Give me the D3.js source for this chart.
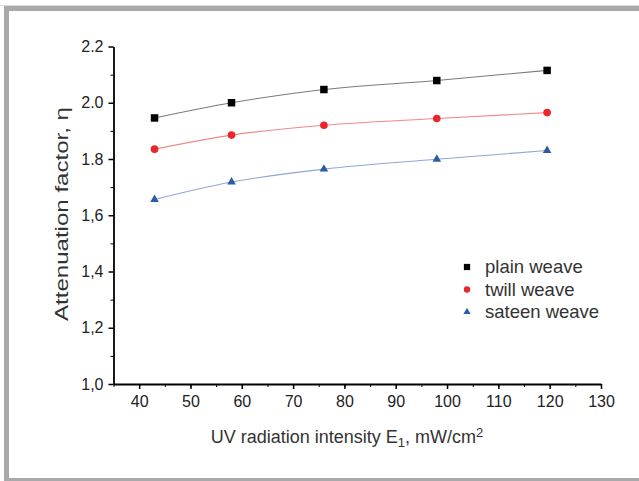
<html>
<head>
<style>
  body { margin: 0; background: #fff; }
  svg text { font-family: "Liberation Sans", Arial, sans-serif; }
  .axis path, .axis line { stroke: #000; }
  .axis text { fill: #222; font-size: 16px; }
  .minor text { display: none; }
</style>
<script src="https://d3js.org/d3.v7.min.js"></script>
</head>
<body>
<svg width="639" height="481"></svg>
<script>
// data
const intensity = [43, 58, 76, 98, 119.5];
const plainWeave = [1.946, 2.000, 2.047, 2.079, 2.115];
const twillWeave = [1.835, 1.885, 1.920, 1.944, 1.965];
const sateenWeave = [1.656, 1.718, 1.764, 1.799, 1.830];
const seriesNames = ["plain weave", "twill weave", "sateen weave"];
const xTicks = [40, 50, 60, 70, 80, 90, 100, 110, 120, 130];
const yTicks = [1.0, 1.2, 1.4, 1.6, 1.8, 2.0, 2.2];
const yTickLabels = ["1,0", "1,2", "1,4", "1,6", "1.8", "2.0", "2.2"];

const svg = d3.select("svg");

// grey frame
svg.append("rect").attr("x", 0).attr("y", 5).attr("width", 639).attr("height", 1).attr("fill", "#dcdcdc");
svg.append("rect").attr("x", 4).attr("y", 6).attr("width", 635).attr("height", 5).attr("fill", "#a9a9ab");
svg.append("rect").attr("x", 4).attr("y", 6).attr("width", 5).attr("height", 475).attr("fill", "#a9a9ab");
svg.append("rect").attr("x", 4).attr("y", 478).attr("width", 635).attr("height", 3).attr("fill", "#a9a9ab");

const xs = d3.scaleLinear().domain([35, 130]).range([113.5, 601]);
const ys = d3.scaleLinear().domain([1.0, 2.2]).range([384, 46.5]);

// minor ticks
svg.append("g").attr("class", "axis minor")
  .attr("transform", "translate(0," + ys(1.0) + ")")
  .call(d3.axisBottom(xs).tickValues(d3.range(35, 131, 5)).tickSize(3).tickFormat(""))
  .call(g => g.select(".domain").remove());
svg.append("g").attr("class", "axis minor")
  .attr("transform", "translate(" + xs(35) + ",0)")
  .call(d3.axisLeft(ys).tickValues(d3.range(1.1, 2.2, 0.2)).tickSize(3).tickFormat(""))
  .call(g => g.select(".domain").remove());

// major axes
svg.append("g").attr("class", "axis")
  .attr("transform", "translate(0," + ys(1.0) + ")")
  .call(d3.axisBottom(xs).tickValues(xTicks).tickSize(5).tickSizeOuter(0).tickPadding(7))
  .call(g => g.select(".domain").attr("stroke-width", 1.8))
  .call(g => g.selectAll(".tick line").attr("stroke-width", 1.5));
svg.append("g").attr("class", "axis")
  .attr("transform", "translate(" + xs(35) + ",0)")
  .call(d3.axisLeft(ys).tickValues(yTicks).tickSize(5).tickSizeOuter(0).tickPadding(5)
    .tickFormat((d, i) => yTickLabels[i]))
  .call(g => g.select(".domain").attr("stroke-width", 1.8))
  .call(g => g.selectAll(".tick line").attr("stroke-width", 1.5));

// axis titles
const xTitle = svg.append("text")
  .attr("x", 347).attr("y", 443)
  .attr("text-anchor", "middle")
  .attr("fill", "#333").attr("font-size", "18px");
xTitle.append("tspan").text("UV radiation intensity E");
xTitle.append("tspan").attr("dy", 4).attr("font-size", "13px").text("1");
xTitle.append("tspan").attr("dy", -4).text(", mW/cm");
xTitle.append("tspan").attr("dy", -6).attr("font-size", "13px").text("2");

svg.append("text")
  .attr("transform", "translate(68,214) rotate(-90)")
  .attr("text-anchor", "middle")
  .attr("fill", "#333").attr("font-size", "19px")
  .attr("textLength", 214).attr("lengthAdjust", "spacingAndGlyphs")
  .text("Attenuation factor, \u03b7");

// curves
const series = [
  { name: seriesNames[0], values: plainWeave, line: "#7a7a7a", fill: "#000", shape: d3.symbolSquare, size: 56 },
  { name: seriesNames[1], values: twillWeave, line: "#f08a8a", fill: "#e8262c", shape: d3.symbolCircle, size: 46 },
  { name: seriesNames[2], values: sateenWeave, line: "#8ea6d8", fill: "#2b5ba8", shape: d3.symbolTriangle, size: 32 }
];

const line = d3.line()
  .x((d, i) => xs(intensity[i]))
  .y(d => ys(d))
  .curve(d3.curveMonotoneX);

series.forEach(s => {
  svg.append("path")
    .attr("d", line(s.values))
    .attr("fill", "none")
    .attr("stroke", s.line)
    .attr("stroke-width", 1.1);
  svg.append("g").selectAll("path")
    .data(s.values)
    .enter().append("path")
    .attr("transform", (d, i) => "translate(" + xs(intensity[i]) + "," + ys(d) + ")")
    .attr("d", d3.symbol().type(s.shape).size(s.size))
    .attr("fill", s.fill);
});

// legend
const legend = svg.append("g").attr("transform", "translate(467,267)");
series.forEach((s, i) => {
  legend.append("path")
    .attr("transform", "translate(0," + (i * 22.5) + ")")
    .attr("d", d3.symbol().type(s.shape).size(s.size * 0.7))
    .attr("fill", s.fill);
  legend.append("text")
    .attr("x", 18).attr("y", i * 22.5 + 6)
    .attr("fill", "#333").attr("font-size", "18.5px")
    .text(s.name);
});
</script>
</body>
</html>
